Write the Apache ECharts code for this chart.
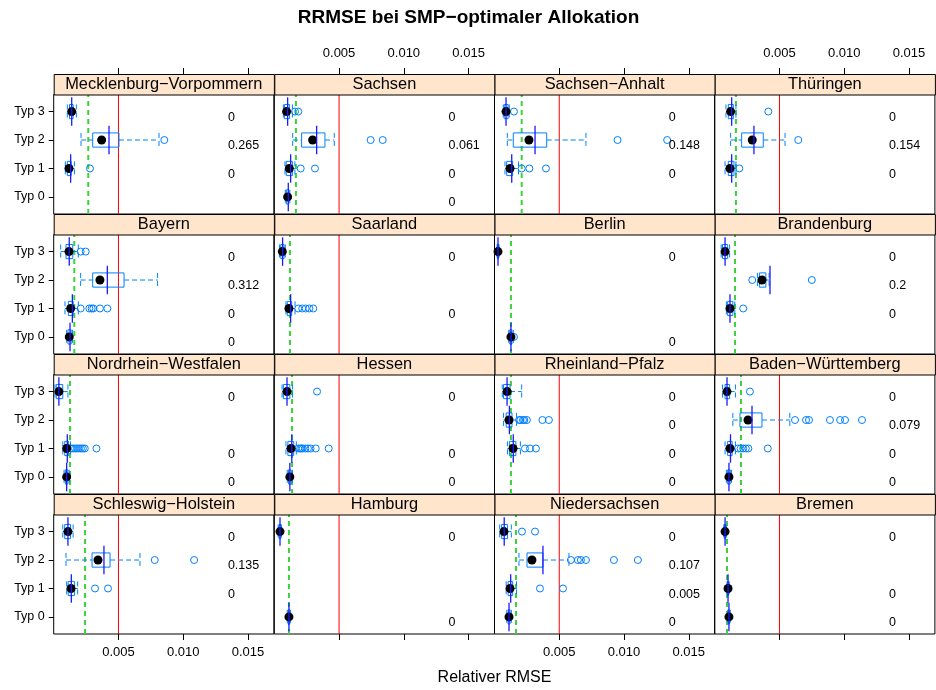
<!DOCTYPE html>
<html>
<head>
<meta charset="utf-8">
<script src="https://cdn.jsdelivr.net/npm/echarts@6/dist/echarts.min.js"></script>
<style>
  html, body { margin: 0; padding: 0; background: #fff; }
  #chart { width: 936px; height: 690px; }
</style>
</head>
<body>
<div id="chart"></div>
<script>
// Panels, in reading order (4 x 4)
const states = [
  'Mecklenburg\u2212Vorpommern', 'Sachsen', 'Sachsen\u2212Anhalt', 'Th\u00fcringen',
  'Bayern', 'Saarland', 'Berlin', 'Brandenburg',
  'Nordrhein\u2212Westfalen', 'Hessen', 'Rheinland\u2212Pfalz', 'Baden\u2212W\u00fcrttemberg',
  'Schleswig\u2212Holstein', 'Hamburg', 'Niedersachsen', 'Bremen'
];
const typLabels = ['Typ 0', 'Typ 1', 'Typ 2', 'Typ 3'];
const xTicks = [0.005, 0.010, 0.015];
const xRange = [0, 0.017];

// Reference line at RRMSE = 0.005 and the panels that show it
const redLine = 0.005;
const redPanels = [0, 1, 2, 3, 4, 5, 8, 9, 10, 11, 12, 13, 14, 15];
// Per-panel green threshold
const greenLine = [
  0.00267, 0.00167, 0.00210, 0.00164,
  0.00159, 0.00121, 0.00127, 0.00157,
  0.00126, 0.00137, 0.00127, 0.00203,
  0.00242, 0.00113, 0.00166, 0.00095
];

// Box statistics: [panel, typ, lower whisker, Q1, median, Q3, upper whisker]
const boxStats = [
  [0, 3, 0.00105, 0.00122, 0.00139, 0.00150, 0.00175],
  [0, 2, 0.00211, 0.00301, 0.00370, 0.00504, 0.00813],
  [0, 1, 0.00090, 0.00105, 0.00118, 0.00135, 0.00160],
  [1, 3, 0.00070, 0.00078, 0.00095, 0.00118, 0.00140],
  [1, 2, 0.00142, 0.00211, 0.00296, 0.00391, 0.00463],
  [1, 1, 0.00082, 0.00092, 0.00116, 0.00140, 0.00159],
  [1, 0, 0.00085, 0.00093, 0.00103, 0.00113, 0.00120],
  [2, 3, 0.00068, 0.00075, 0.00089, 0.00105, 0.00114],
  [2, 2, 0.00099, 0.00145, 0.00266, 0.00403, 0.00706],
  [2, 1, 0.00081, 0.00094, 0.00120, 0.00140, 0.00185],
  [3, 3, 0.00087, 0.00105, 0.00123, 0.00144, 0.00164],
  [3, 2, 0.00123, 0.00208, 0.00290, 0.00375, 0.00543],
  [3, 1, 0.00080, 0.00105, 0.00118, 0.00149, 0.00164],
  [4, 3, 0.00054, 0.00095, 0.00118, 0.00147, 0.00190],
  [4, 2, 0.00208, 0.00301, 0.00357, 0.00543, 0.00802],
  [4, 1, 0.00087, 0.00113, 0.00131, 0.00151, 0.00190],
  [4, 0, 0.00100, 0.00110, 0.00120, 0.00135, 0.00145],
  [5, 3, 0.00040, 0.00050, 0.00062, 0.00075, 0.00085],
  [5, 1, 0.00090, 0.00100, 0.00113, 0.00134, 0.00160],
  [6, 3, 0.00020, 0.00023, 0.00027, 0.00031, 0.00035],
  [6, 0, 0.00110, 0.00118, 0.00127, 0.00135, 0.00145],
  [7, 3, 0.00050, 0.00060, 0.00080, 0.00100, 0.00115],
  [7, 2, 0.00330, 0.00345, 0.00365, 0.00395, 0.00420],
  [7, 1, 0.00090, 0.00100, 0.00118, 0.00140, 0.00155],
  [8, 3, 0.00010, 0.00020, 0.00040, 0.00070, 0.00110],
  [8, 1, 0.00070, 0.00085, 0.00100, 0.00115, 0.00130],
  [8, 0, 0.00080, 0.00090, 0.00100, 0.00110, 0.00120],
  [9, 3, 0.00060, 0.00070, 0.00098, 0.00120, 0.00140],
  [9, 1, 0.00090, 0.00105, 0.00129, 0.00150, 0.00170],
  [9, 0, 0.00100, 0.00110, 0.00120, 0.00130, 0.00140],
  [10, 3, 0.00060, 0.00070, 0.00097, 0.00120, 0.00210],
  [10, 2, 0.00070, 0.00090, 0.00112, 0.00135, 0.00170],
  [10, 1, 0.00100, 0.00115, 0.00143, 0.00165, 0.00200],
  [11, 3, 0.00060, 0.00080, 0.00095, 0.00115, 0.00160],
  [11, 2, 0.00140, 0.00195, 0.00257, 0.00365, 0.00580],
  [11, 1, 0.00080, 0.00100, 0.00118, 0.00135, 0.00160],
  [11, 0, 0.00090, 0.00100, 0.00110, 0.00120, 0.00130],
  [12, 3, 0.00070, 0.00085, 0.00110, 0.00130, 0.00150],
  [12, 2, 0.00095, 0.00296, 0.00342, 0.00435, 0.00666],
  [12, 1, 0.00100, 0.00112, 0.00134, 0.00160, 0.00185],
  [13, 3, 0.00030, 0.00037, 0.00044, 0.00050, 0.00055],
  [13, 0, 0.00100, 0.00106, 0.00113, 0.00120, 0.00126],
  [14, 3, 0.00040, 0.00055, 0.00073, 0.00100, 0.00130],
  [14, 2, 0.00189, 0.00251, 0.00289, 0.00374, 0.00575],
  [14, 1, 0.00090, 0.00105, 0.00120, 0.00140, 0.00170],
  [14, 0, 0.00095, 0.00105, 0.00112, 0.00120, 0.00130],
  [15, 3, 0.00070, 0.00075, 0.00080, 0.00085, 0.00090],
  [15, 1, 0.00095, 0.00100, 0.00103, 0.00107, 0.00112],
  [15, 0, 0.00100, 0.00105, 0.00110, 0.00115, 0.00120]
];

// Mean RRMSE per panel and typ: [panel, typ, mean]
const means = [
  [0, 3, 0.00139], [0, 2, 0.00427], [0, 1, 0.00131],
  [1, 3, 0.00103], [1, 2, 0.00327], [1, 1, 0.00126], [1, 0, 0.00108],
  [2, 3, 0.00089], [2, 2, 0.00313], [2, 1, 0.00133],
  [3, 3, 0.00131], [3, 2, 0.00303], [3, 1, 0.00131],
  [4, 3, 0.00120], [4, 2, 0.00414], [4, 1, 0.00144], [4, 0, 0.00126],
  [5, 3, 0.00064], [5, 1, 0.00126],
  [6, 3, 0.00027], [6, 0, 0.00127],
  [7, 3, 0.00080], [7, 2, 0.00427], [7, 1, 0.00118],
  [8, 3, 0.00040], [8, 1, 0.00105], [8, 0, 0.00100],
  [9, 3, 0.00098], [9, 1, 0.00135], [9, 0, 0.00120],
  [10, 3, 0.00097], [10, 2, 0.00115], [10, 1, 0.00145],
  [11, 3, 0.00095], [11, 2, 0.00288], [11, 1, 0.00122], [11, 0, 0.00110],
  [12, 3, 0.00110], [12, 2, 0.00388], [12, 1, 0.00136],
  [13, 3, 0.00044], [13, 0, 0.00113],
  [14, 3, 0.00075], [14, 2, 0.00374], [14, 1, 0.00125], [14, 0, 0.00112],
  [15, 3, 0.00080], [15, 1, 0.00103], [15, 0, 0.00110]
];

// Values beyond the whiskers: [panel, typ, value]
const outliers = [
  [0, 2, 0.00854], [0, 1, 0.00280],
  [1, 3, 0.00160], [1, 3, 0.00185], [1, 2, 0.00744], [1, 2, 0.00837], [1, 1, 0.00204], [1, 1, 0.00314],
  [2, 3, 0.00150], [2, 2, 0.00950], [2, 2, 0.01333], [2, 1, 0.00210], [2, 1, 0.00269], [2, 1, 0.00397],
  [3, 3, 0.00414], [3, 2, 0.00645], [3, 1, 0.00190],
  [4, 3, 0.00208], [4, 3, 0.00247],
  [4, 1, 0.00208], [4, 1, 0.00275], [4, 1, 0.00293], [4, 1, 0.00306], [4, 1, 0.00357], [4, 1, 0.00414],
  [5, 1, 0.00185], [5, 1, 0.00216], [5, 1, 0.00242], [5, 1, 0.00270], [5, 1, 0.00301],
  [6, 0, 0.00150],
  [7, 2, 0.00290], [7, 2, 0.00750], [7, 1, 0.00220],
  [8, 1, 0.00135], [8, 1, 0.00150], [8, 1, 0.00165], [8, 1, 0.00180], [8, 1, 0.00195],
  [8, 1, 0.00210], [8, 1, 0.00225], [8, 1, 0.00240], [8, 1, 0.00330],
  [9, 3, 0.00330],
  [9, 1, 0.00185], [9, 1, 0.00200], [9, 1, 0.00210], [9, 1, 0.00220], [9, 1, 0.00240],
  [9, 1, 0.00260], [9, 1, 0.00280], [9, 1, 0.00320], [9, 1, 0.00420],
  [10, 2, 0.00190], [10, 2, 0.00200], [10, 2, 0.00220], [10, 2, 0.00230], [10, 2, 0.00250],
  [10, 2, 0.00370], [10, 2, 0.00420],
  [10, 1, 0.00235], [10, 1, 0.00274], [10, 1, 0.00320],
  [11, 3, 0.00272],
  [11, 2, 0.00620], [11, 2, 0.00705], [11, 2, 0.00728], [11, 2, 0.00890], [11, 2, 0.00968],
  [11, 2, 0.01006], [11, 2, 0.01137],
  [11, 1, 0.00180], [11, 1, 0.00200], [11, 1, 0.00220], [11, 1, 0.00240], [11, 1, 0.00260], [11, 1, 0.00410],
  [12, 2, 0.00780], [12, 2, 0.01084], [12, 1, 0.00319], [12, 1, 0.00419],
  [14, 3, 0.00212], [14, 3, 0.00313],
  [14, 2, 0.00590], [14, 2, 0.00644], [14, 2, 0.00667], [14, 2, 0.00706], [14, 2, 0.00922], [14, 2, 0.01107],
  [14, 1, 0.00351], [14, 1, 0.00529]
];

// Share printed beside each box: [panel, typ, text]
const shares = [
  [0, 3, '0'], [0, 2, '0.265'], [0, 1, '0'],
  [1, 3, '0'], [1, 2, '0.061'], [1, 1, '0'], [1, 0, '0'],
  [2, 3, '0'], [2, 2, '0.148'], [2, 1, '0'],
  [3, 3, '0'], [3, 2, '0.154'], [3, 1, '0'],
  [4, 3, '0'], [4, 2, '0.312'], [4, 1, '0'], [4, 0, '0'],
  [5, 3, '0'], [5, 1, '0'],
  [6, 3, '0'], [6, 0, '0'],
  [7, 3, '0'], [7, 2, '0.2'], [7, 1, '0'],
  [8, 3, '0'], [8, 1, '0'], [8, 0, '0'],
  [9, 3, '0'], [9, 1, '0'], [9, 0, '0'],
  [10, 3, '0'], [10, 2, '0'], [10, 1, '0'], [10, 0, '0'],
  [11, 3, '0'], [11, 2, '0.079'], [11, 1, '0'], [11, 0, '0'],
  [12, 3, '0'], [12, 2, '0.135'], [12, 1, '0'],
  [13, 3, '0'], [13, 0, '0'],
  [14, 3, '0'], [14, 2, '0.107'], [14, 1, '0.005'], [14, 0, '0'],
  [15, 3, '0'], [15, 1, '0'], [15, 0, '0']
];
const SHARE_X = 0.01345;

// ---- layout ----
const FONT = '"Liberation Sans", Arial, Helvetica, sans-serif';
const colLeft = [53.7, 274.3, 494.5, 714.7];
const panelW = 220.2;
const rowTop0 = 74;
const rowStep = 140;
const stripH = 20.5;
const panelH = 119.5;
const yRange = [-0.6, 3.6];

const BOX_BLUE = '#0080ff';
const MEAN_BLUE = '#1a1aff';
const GREEN = '#3cd23c';
const RED = '#ff0000';

function renderBox(params, api) {
  const typ = api.value(0);
  const lo = api.coord([api.value(1), typ]);
  const q1 = api.coord([api.value(2), typ]);
  const q3 = api.coord([api.value(4), typ]);
  const hi = api.coord([api.value(5), typ]);
  const h = api.size([0, 0.5])[1];
  const y = q1[1];
  const dash = { stroke: BOX_BLUE, lineWidth: 1, lineDash: [5, 3] };
  return {
    type: 'group',
    children: [
      { type: 'line', shape: { x1: lo[0], y1: y, x2: q1[0], y2: y }, style: dash },
      { type: 'line', shape: { x1: q3[0], y1: y, x2: hi[0], y2: y }, style: dash },
      { type: 'line', shape: { x1: lo[0], y1: y - h / 2, x2: lo[0], y2: y + h / 2 }, style: dash },
      { type: 'line', shape: { x1: hi[0], y1: y - h / 2, x2: hi[0], y2: y + h / 2 }, style: dash },
      { type: 'rect', shape: { x: q1[0], y: y - h / 2, width: q3[0] - q1[0], height: h },
        style: { fill: 'none', stroke: BOX_BLUE, lineWidth: 1 } }
    ]
  };
}

function renderMean(params, api) {
  const v = api.value(1), typ = api.value(0);
  const a = api.coord([v, typ - 0.5]);
  const b = api.coord([v, typ + 0.5]);
  return { type: 'line', shape: { x1: a[0], y1: a[1], x2: b[0], y2: b[1] },
    style: { stroke: MEAN_BLUE, lineWidth: 1.3 } };
}

function makeRefRender(lines) {
  return function (params, api) {
    const ln = lines[params.dataIndex];
    const a = api.coord([ln.v, yRange[0]]);
    const b = api.coord([ln.v, yRange[1]]);
    return { type: 'line', shape: { x1: a[0], y1: a[1], x2: b[0], y2: b[1] },
      style: ln.kind === 'red'
        ? { stroke: RED, lineWidth: 1 }
        : { stroke: GREEN, lineWidth: 2, lineDash: [5, 4] } };
  };
}

function makeShareRender(items) {
  return function (params, api) {
    const it = items[params.dataIndex];
    const p = api.coord([SHARE_X, it[1]]);
    return { type: 'text', x: p[0], y: p[1] + 6,
      style: { text: it[2], fill: '#000', font: '12.5px ' + FONT, textAlign: 'left', textVerticalAlign: 'middle' } };
  };
}

const grids = [], xAxes = [], yAxes = [], series = [], graphics = [];

states.forEach((name, i) => {
  const r = Math.floor(i / 4), c = i % 4;
  const left = colLeft[c];
  const stripTop = rowTop0 + r * rowStep;
  const top = stripTop + stripH;

  grids.push({ left, top, width: panelW, height: panelH, show: true,
    borderColor: '#000', borderWidth: 1, backgroundColor: 'transparent', containLabel: false });

  const tickLbl = { customValues: xTicks, formatter: v => v.toFixed(3),
    fontSize: 13, fontFamily: FONT, color: '#000' };
  // bottom axis
  xAxes.push({ type: 'value', gridIndex: i, min: xRange[0], max: xRange[1], position: 'bottom',
    axisLine: { show: false, onZero: false }, splitLine: { show: false },
    axisTick: { show: r === 3, inside: false, length: 6, customValues: xTicks, lineStyle: { color: '#000' } },
    axisLabel: Object.assign({ show: r === 3 && c % 2 === 0, margin: 12 }, tickLbl) });
  // top axis, above the strip
  xAxes.push({ type: 'value', gridIndex: i, min: xRange[0], max: xRange[1], position: 'top', offset: stripH,
    axisLine: { show: false, onZero: false }, splitLine: { show: false },
    axisTick: { show: r === 0, inside: false, length: 6, customValues: xTicks, lineStyle: { color: '#000' } },
    axisLabel: Object.assign({ show: r === 0 && c % 2 === 1, margin: 14 }, tickLbl) });
  yAxes.push({ type: 'value', gridIndex: i, min: yRange[0], max: yRange[1],
    axisLine: { show: false, onZero: false }, splitLine: { show: false },
    axisTick: { show: c === 0, inside: false, length: 5, customValues: [0, 1, 2, 3], lineStyle: { color: '#000' } },
    axisLabel: { show: c === 0, customValues: [0, 1, 2, 3], formatter: v => typLabels[Math.round(v)],
      fontSize: 12.5, fontFamily: FONT, color: '#000', margin: 9 } });

  // strip header
  graphics.push({ type: 'rect', left, top: stripTop, silent: true, z: 10,
    shape: { x: 0, y: 0, width: panelW, height: stripH },
    style: { fill: '#ffe5cc', stroke: '#000', lineWidth: 1 } });
  graphics.push({ type: 'text', x: left + panelW / 2, y: stripTop + stripH / 2 + 0.5, silent: true, z: 11,
    style: { text: name, font: '16.4px ' + FONT, fill: '#000', textAlign: 'center', textVerticalAlign: 'middle' } });

  const xi = 2 * i, yi = i;
  const refLines = [];
  if (redPanels.includes(i)) refLines.push({ v: redLine, kind: 'red' });
  refLines.push({ v: greenLine[i], kind: 'green' });
  series.push({ type: 'custom', xAxisIndex: xi, yAxisIndex: yi, silent: true, z: 1,
    renderItem: makeRefRender(refLines), data: refLines.map(l => [l.v, 0]) });

  series.push({ type: 'custom', xAxisIndex: xi, yAxisIndex: yi, silent: true, z: 2,
    renderItem: renderBox, data: boxStats.filter(b => b[0] === i).map(b => b.slice(1)) });

  series.push({ type: 'scatter', xAxisIndex: xi, yAxisIndex: yi, silent: true, z: 3,
    symbol: 'circle', symbolSize: 7,
    itemStyle: { color: 'rgba(0,0,0,0)', borderColor: BOX_BLUE, borderWidth: 1, opacity: 1 },
    data: outliers.filter(o => o[0] === i).map(o => [o[2], o[1]]) });

  series.push({ type: 'scatter', xAxisIndex: xi, yAxisIndex: yi, silent: true, z: 4,
    symbol: 'circle', symbolSize: 9, itemStyle: { color: '#000', opacity: 1 },
    data: boxStats.filter(b => b[0] === i).map(b => [b[4], b[1]]) });

  series.push({ type: 'custom', xAxisIndex: xi, yAxisIndex: yi, silent: true, z: 5,
    renderItem: renderMean, data: means.filter(m => m[0] === i).map(m => [m[1], m[2]]) });

  const sh = shares.filter(s => s[0] === i);
  series.push({ type: 'custom', xAxisIndex: xi, yAxisIndex: yi, silent: true, z: 6,
    renderItem: makeShareRender(sh), data: sh.map(s => [SHARE_X, s[1]]) });
});

graphics.push({ type: 'text', x: 468.5, y: 18, silent: true,
  style: { text: 'RRMSE bei SMP\u2212optimaler Allokation', font: 'bold 19px ' + FONT,
    fill: '#000', textAlign: 'center', textVerticalAlign: 'middle' } });
graphics.push({ type: 'text', x: 494.5, y: 678, silent: true,
  style: { text: 'Relativer RMSE', font: '16px ' + FONT,
    fill: '#000', textAlign: 'center', textVerticalAlign: 'middle' } });

const chart = echarts.init(document.getElementById('chart'), null, { renderer: 'canvas' });
chart.setOption({
  animation: false,
  backgroundColor: '#fff',
  grid: grids,
  xAxis: xAxes,
  yAxis: yAxes,
  series,
  graphic: { elements: graphics }
});
</script>
</body>
</html>
